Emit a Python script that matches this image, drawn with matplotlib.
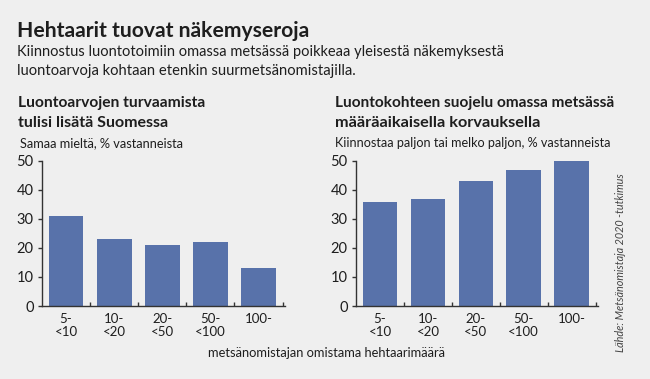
import numpy as np
import matplotlib.pyplot as plt

# data
categories = ['5-\n<10', '10-\n<20', '20-\n<50', '50-\n<100', '100-']
agree_pct = [31, 23, 21, 22, 13]       # Samaa mieltä
interest_pct = [36, 37, 43, 47, 50]    # Kiinnostaa paljon tai melko paljon
yticks = [0, 10, 20, 30, 40, 50]

bg = '#efefef'
bar_color = '#5872aa'
txt = '#1e1e1e'
W, H = 650, 379

plt.rcParams['font.family'] = ['Lato', 'DejaVu Sans']

fig = plt.figure(figsize=(6.5, 3.79), dpi=100, facecolor=bg)
renderer = fig.canvas.get_renderer()


def ptext(x, y, s, width=None, **kw):
    # place text by pixel coords, optionally scale font so it spans `width` px
    t = fig.text(x / W, 1 - y / H, s, color=kw.pop('color', txt), **kw)
    if width:
        bb = t.get_window_extent(renderer)
        w = bb.height if kw.get('rotation') == 90 else bb.width
        t.set_fontsize(t.get_fontsize() * width / w)
    return t


ptext(17, 37, 'Hehtaarit tuovat näkemyseroja', width=294, fontsize=16,
      fontweight='bold', va='baseline')
ptext(17, 56, 'Kiinnostus luontotoimiin omassa metsässä poikkeaa yleisestä näkemyksestä',
      width=486, fontsize=10, va='baseline')
ptext(17, 75, 'luontoarvoja kohtaan etenkin suurmetsänomistajilla.',
      width=338, fontsize=10, va='baseline')

ptext(18, 107, 'Luontoarvojen turvaamista', width=188, fontsize=10,
      fontweight='bold', va='baseline')
ptext(18, 127, 'tulisi lisätä Suomessa', width=150, fontsize=10,
      fontweight='bold', va='baseline')
ptext(335, 107, 'Luontokohteen suojelu omassa metsässä', width=280, fontsize=10,
      fontweight='bold', va='baseline')
ptext(335, 127, 'määräaikaisella korvauksella', width=205, fontsize=10,
      fontweight='bold', va='baseline')

ptext(20, 147, 'Samaa mieltä, % vastanneista', width=165, fontsize=9, va='baseline')
ptext(335, 147, 'Kiinnostaa paljon tai melko paljon, % vastanneista', width=277,
      fontsize=9, va='baseline')

ptext(327, 353, 'metsänomistajan omistama hehtaarimäärä', width=240, fontsize=9,
      ha='center', va='center')
ptext(620, 263, 'Lähde: Metsänomistaja 2020 -tutkimus', width=180, fontsize=8,
      rotation=90, style='italic', ha='center', va='center', color='#444444')


def panel(left_px, right_px, values):
    top_px, bottom_px = 161, 306
    ax = fig.add_axes([left_px / W, 1 - bottom_px / H,
                       (right_px - left_px) / W, (bottom_px - top_px) / H])
    ax.set_facecolor(bg)
    x = np.arange(len(categories))
    ax.bar(x, values, width=0.72, color=bar_color, zorder=2)
    ax.set_xlim(-0.5, 4.55)
    ax.set_ylim(0, 50)
    for s in ['top', 'right']:
        ax.spines[s].set_visible(False)
    for s in ['left', 'bottom']:
        ax.spines[s].set_color('#333333')
        ax.spines[s].set_linewidth(1.0)
    ax.set_yticks(yticks)
    ax.tick_params(axis='y', length=3, width=1, color='#333333', pad=3,
                   labelsize=10.5, labelcolor=txt)
    ax.set_xticks(x)
    ax.set_xticklabels(categories, linespacing=1.1)
    ax.tick_params(axis='x', length=0, pad=5, labelsize=9.5, labelcolor=txt)
    ax.set_xticks(np.arange(0.5, 5, 1), minor=True)
    ax.tick_params(axis='x', which='minor', direction='in', length=3, width=1,
                   color='#333333')
    return ax


panel(42, 285, agree_pct)
panel(356, 598, interest_pct)

fig.savefig('out.png', dpi=100, facecolor=bg)
